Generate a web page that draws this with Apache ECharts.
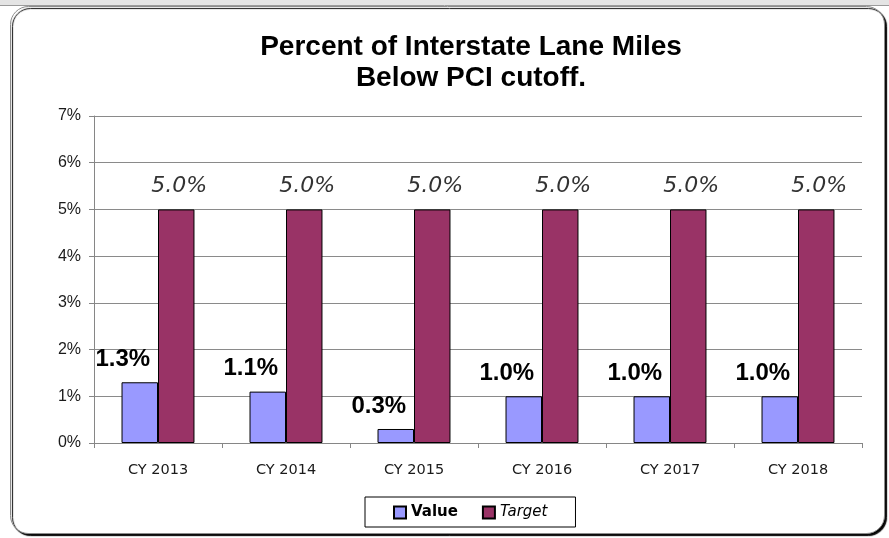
<!DOCTYPE html>
<html>
<head>
<meta charset="utf-8">
<script src="https://cdn.jsdelivr.net/npm/echarts@6/dist/echarts.min.js"></script>
<style>
  html, body { margin: 0; padding: 0; background: #fff; }
  #chart { width: 889px; height: 538px; }
</style>
</head>
<body>
<div id="chart"></div>
<script>
// data (percent)
const categories = ["CY 2013", "CY 2014", "CY 2015", "CY 2016", "CY 2017", "CY 2018"];
const valueData = [1.3, 1.1, 0.3, 1.0, 1.0, 1.0];
const targetData = [5.0, 5.0, 5.0, 5.0, 5.0, 5.0];
const yTicks = [0, 1, 2, 3, 4, 5, 6, 7];

const chart = echarts.init(document.getElementById("chart"));

chart.setOption({
  animation: false,
  backgroundColor: "#fff",
  graphic: [
    // grey strip at the top of the screenshot
    { type: "rect", shape: { x: 0, y: 0, width: 889, height: 5 }, style: { fill: "#e4e4e4" } },
    { type: "line", shape: { x1: 0, y1: 5.5, x2: 889, y2: 5.5 }, style: { stroke: "#9a9a9a", lineWidth: 1 } },
    // rounded chart frame with dark shadow
    {
      type: "rect",
      z: -10,
      shape: { x: 10.5, y: 6.5, width: 874, height: 527, r: 18 },
      style: {
        fill: "#fff", stroke: "#8c8c8c", lineWidth: 1,
        shadowColor: "#000", shadowOffsetX: 2, shadowOffsetY: 2, shadowBlur: 1
      }
    }
  ],
  title: {
    text: "Percent of Interstate Lane Miles\nBelow PCI cutoff.",
    left: 466,
    top: 27,
    textAlign: "center",
    textStyle: {
      fontFamily: "Liberation Sans, Arial, sans-serif",
      fontSize: 28,
      fontWeight: "bold",
      color: "#000",
      lineHeight: 31
    }
  },
  legend: {
    left: 365,
    top: 497,
    padding: [8, 28, 7, 28],
    itemGap: 24,
    itemWidth: 12,
    itemHeight: 12,
    icon: "rect",
    borderColor: "#000",
    borderWidth: 1,
    textStyle: { fontFamily: "DejaVu Sans, Verdana, sans-serif", fontSize: 15, color: "#000" },
    data: [
      { name: "Value", textStyle: { fontWeight: "bold" } },
      { name: "Target", textStyle: { fontStyle: "italic" } }
    ]
  },
  grid: { left: 94, right: 27, top: 116, bottom: 95 },
  xAxis: {
    type: "category",
    data: categories,
    axisLine: { lineStyle: { color: "#868686", width: 1 } },
    axisTick: { show: true, length: 5, lineStyle: { color: "#868686" } },
    axisLabel: {
      margin: 20,
      fontFamily: "DejaVu Sans, Tahoma, sans-serif",
      fontSize: 14.5,
      color: "#1a1a1a"
    }
  },
  yAxis: {
    type: "value",
    min: yTicks[0],
    max: yTicks[yTicks.length - 1],
    interval: 1,
    axisLine: { show: true, lineStyle: { color: "#868686", width: 1 } },
    axisTick: { show: true, length: 5, lineStyle: { color: "#868686" } },
    splitLine: { lineStyle: { color: "#8a8a8a", width: 1 } },
    axisLabel: {
      margin: 13,
      fontFamily: "Liberation Sans, Arial, sans-serif",
      fontSize: 16,
      color: "#1a1a1a",
      formatter: "{value}%"
    }
  },
  series: [
    {
      name: "Value",
      type: "bar",
      data: valueData,
      barGap: "0%",
      barCategoryGap: "43%",
      itemStyle: { color: "#9999ff", borderColor: "#000", borderWidth: 1 },
      label: {
        show: true,
        position: "top",
        distance: 5,
        offset: [-17, -6],
        fontFamily: "Liberation Sans, Arial, sans-serif",
        fontSize: 24,
        fontWeight: "bold",
        color: "#000",
        formatter: (p) => p.value.toFixed(1) + "%"
      }
    },
    {
      name: "Target",
      type: "bar",
      data: targetData,
      itemStyle: { color: "#993366", borderColor: "#000", borderWidth: 1 },
      label: {
        show: true,
        position: "top",
        distance: 5,
        offset: [3, -7],
        fontFamily: "DejaVu Sans, Verdana, sans-serif",
        fontSize: 22,
        fontStyle: "italic",
        color: "#333",
        formatter: (p) => p.value.toFixed(1) + "%"
      }
    }
  ]
});
</script>
</body>
</html>
